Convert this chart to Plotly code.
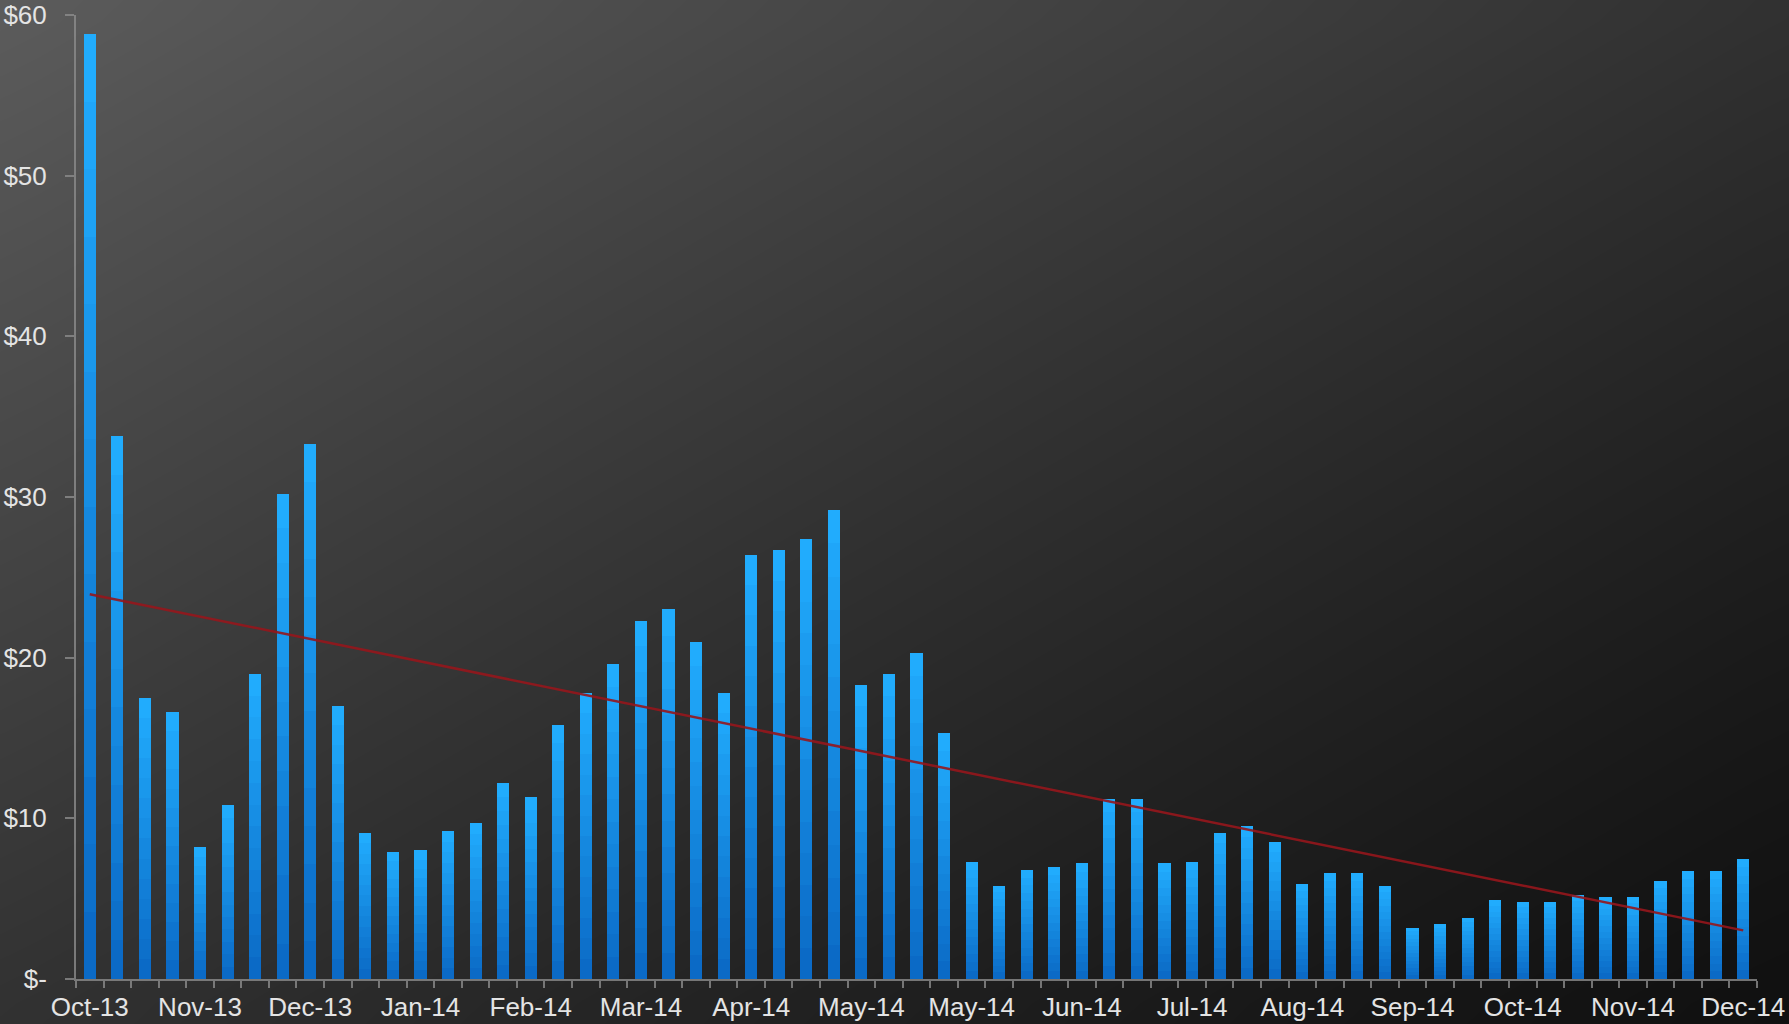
import numpy as np
import plotly.graph_objects as go

W, H = 1789, 1024

# weekly cost
cost = [58.8, 33.8, 17.5, 16.6, 8.2, 10.8, 19.0, 30.2, 33.3, 17.0,
        9.1, 7.9, 8.0, 9.2, 9.7, 12.2, 11.3, 15.8, 17.8, 19.6,
        22.3, 23.0, 21.0, 17.8, 26.4, 26.7, 27.4, 29.2, 18.3, 19.0,
        20.3, 15.3, 7.3, 5.8, 6.8, 7.0, 7.2, 11.2, 11.2, 7.2,
        7.3, 9.1, 9.5, 8.5, 5.9, 6.6, 6.6, 5.8, 3.2, 3.4,
        3.8, 4.9, 4.8, 4.8, 5.2, 5.1, 5.1, 6.1, 6.7, 6.7, 7.5]
week = list(range(len(cost)))

# one label every 4 weeks
month_labels = ["Oct-13", "Nov-13", "Dec-13", "Jan-14", "Feb-14", "Mar-14",
                "Apr-14", "May-14", "May-14", "Jun-14", "Jul-14", "Aug-14",
                "Sep-14", "Oct-14", "Nov-14", "Dec-14"]
label_pos = week[::4]

y_ticks = [0, 10, 20, 30, 40, 50, 60]
y_text = ["$-", "$10", "$20", "$30", "$40", "$50", "$60"]

FONT = "Liberation Sans, Arial, sans-serif"
TXT = "#e4e4e4"
AXIS = "rgba(140,140,140,0.8)"

fig = go.Figure()

# background: diagonal grey gradient, light top-left to dark bottom-right
# (centres run past the paper edge since smoothed heatmaps stop at the centres)
gx = np.linspace(-0.05, 1.05, 48)
gy = np.linspace(-0.05, 1.05, 32)
X, Y = np.meshgrid(np.clip(gx, 0, 1), np.clip(gy, 0, 1))
t = (X + (1 - Y)) / 2
shade = 16 + 76 * (1 - t) ** 1.2
fig.add_trace(go.Heatmap(
    x=gx, y=gy, z=shade, zmin=0, zmax=255, zsmooth="best",
    colorscale=[[0, "rgb(0,0,0)"], [1, "rgb(255,255,255)"]],
    showscale=False, hoverinfo="skip", xaxis="x", yaxis="y",
))

# bars with a vertical gradient: overlaid layers, each a bit shorter and darker
top = np.array([34, 174, 255])
bottom = np.array([10, 104, 196])
n = 14
for k in range(n):
    frac = 1 - k / n
    mid = frac - 0.5 / n
    c = bottom + (top - bottom) * mid
    fig.add_trace(go.Bar(
        x=week, y=[v * frac for v in cost], width=0.44,
        marker=dict(color=f"rgb({c[0]:.0f},{c[1]:.0f},{c[2]:.0f})", line=dict(width=0)),
        xaxis="x2", yaxis="y2", showlegend=False,
        hoverinfo="skip" if k else None,
    ))

# linear trend
slope, icpt = np.polyfit(week, cost, 1)
fig.add_trace(go.Scatter(
    x=[week[0], week[-1]], y=[icpt + slope * week[0], icpt + slope * week[-1]],
    mode="lines", line=dict(color="rgba(150,22,28,0.9)", width=2.5),
    xaxis="x2", yaxis="y2", showlegend=False,
))

fig.update_layout(
    width=W, height=H,
    margin=dict(l=0, r=0, t=0, b=0, autoexpand=False),
    paper_bgcolor="#222", plot_bgcolor="rgba(0,0,0,0)",
    barmode="overlay", bargap=0,
    font=dict(family=FONT, size=26, color=TXT),
    xaxis=dict(domain=[0, 1], range=[0, 1], visible=False, fixedrange=True, automargin=False),
    yaxis=dict(domain=[0, 1], range=[0, 1], visible=False, fixedrange=True, automargin=False),
    xaxis2=dict(
        domain=[76 / W, 1757 / W], range=[-0.5, len(cost) - 0.5], anchor="y2",
        automargin=False,
        tickmode="array", tickvals=label_pos, ticktext=month_labels,
        tickfont=dict(size=26),
        ticks="", showgrid=False, zeroline=False,
        showline=True, linecolor=AXIS, linewidth=2,
        minor=dict(tickmode="array", tickvals=[i - 0.5 for i in range(len(cost) + 1)],
                   ticks="outside", ticklen=7, tickwidth=2, tickcolor=AXIS, showgrid=False),
        ticklabelstandoff=4,
    ),
    yaxis2=dict(
        domain=[1 - 979 / H, 1 - 15 / H], range=[0, 60], anchor="x2",
        automargin=False,
        tickmode="array", tickvals=y_ticks, ticktext=y_text,
        ticks="outside", ticklen=9, tickwidth=2, tickcolor=AXIS,
        showgrid=False, zeroline=False,
        showline=True, linecolor=AXIS, linewidth=2,
        ticklabelstandoff=13,
    ),
)

fig.write_html("out.html", config={"displayModeBar": False},
               post_script="document.body.style.margin='0';")
